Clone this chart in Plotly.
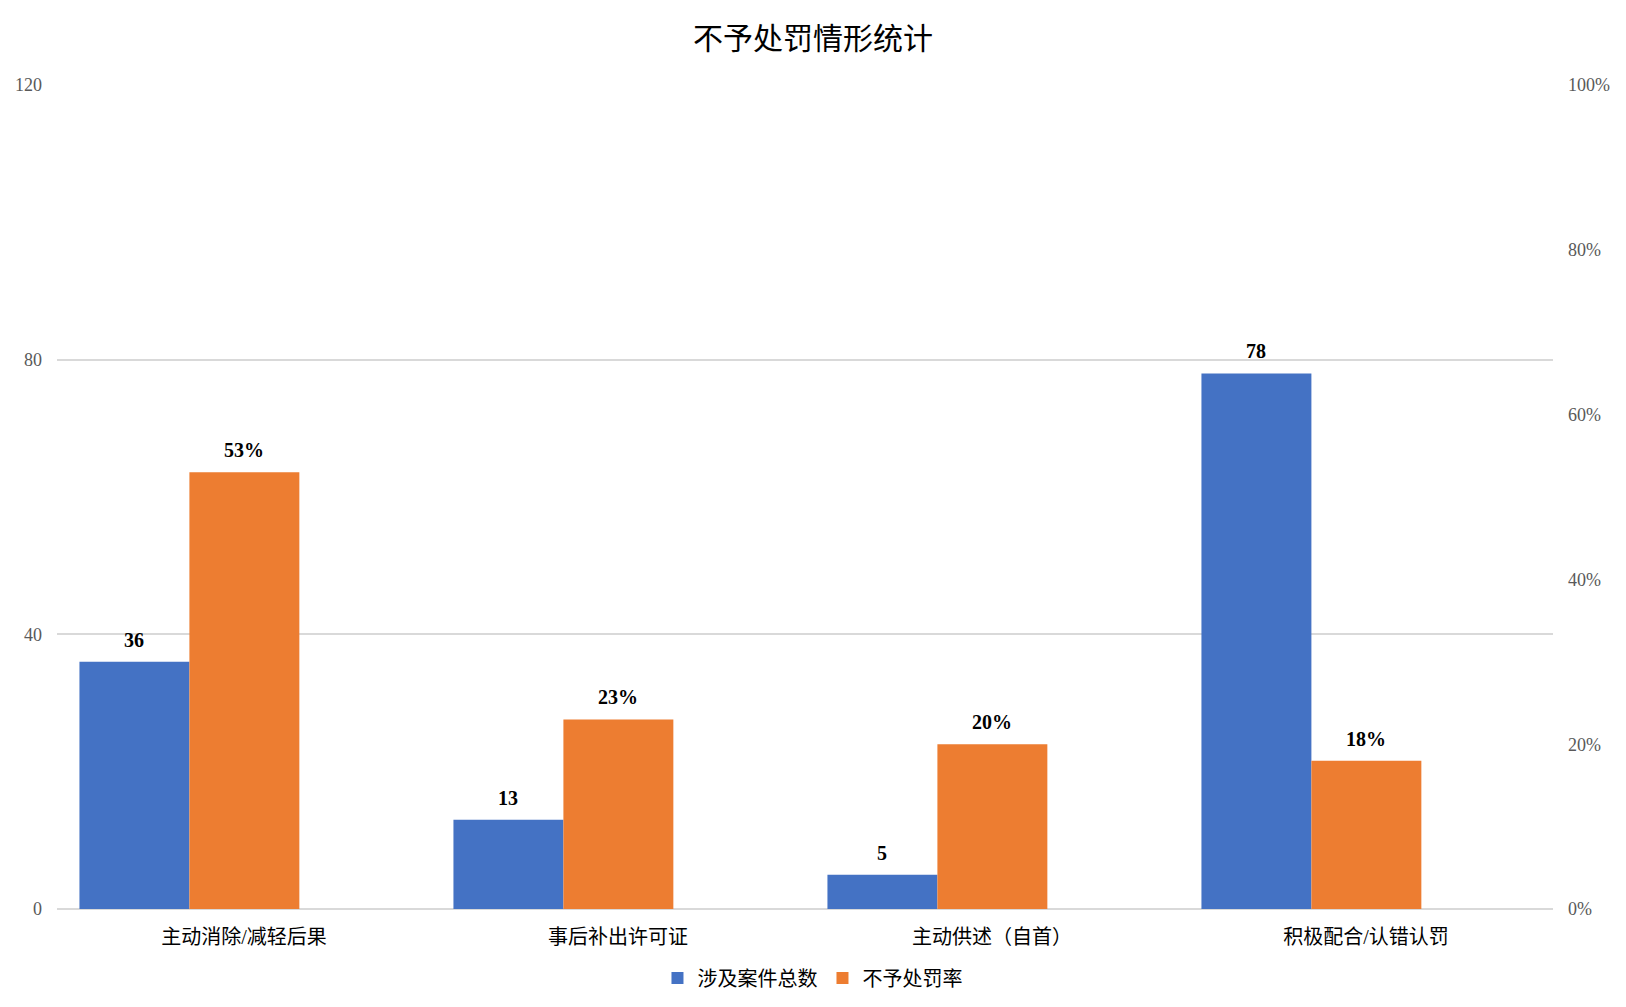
import plotly.graph_objects as go

categories = ["主动消除/减轻后果", "事后补出许可证", "主动供述（自首）", "积极配合/认错认罚"]
case_counts = [36, 13, 5, 78]
no_penalty_rate = [0.53, 0.23, 0.20, 0.18]

FONT = "Liberation Serif, Times New Roman, Noto Sans CJK SC, serif"
BAR_W = 0.294
OFF_BLUE = -0.44

W, H = 1610, 991
L, T, PW, PH = 49, 77, 1496, 824
GROUP_PX = PW / len(categories)

fig = go.Figure()
fig.add_trace(go.Bar(
    x=categories, y=case_counts, name="涉及案件总数",
    marker=dict(color="#4472C4", line=dict(width=0)),
    width=BAR_W, offset=OFF_BLUE, yaxis="y",
))
fig.add_trace(go.Bar(
    x=categories, y=no_penalty_rate, name="不予处罚率",
    marker=dict(color="#ED7D31", line=dict(width=0)),
    width=BAR_W, offset=OFF_BLUE + BAR_W, yaxis="y2",
))

label_font = dict(family=FONT, size=20, color="#000000")
for cat, v in zip(categories, case_counts):
    fig.add_annotation(x=cat, y=v, xref="x", yref="y", text=f"<b>{v}</b>",
                       showarrow=False, yanchor="middle", yshift=22,
                       xshift=(OFF_BLUE + BAR_W / 2) * GROUP_PX, font=label_font)
for cat, v in zip(categories, no_penalty_rate):
    fig.add_annotation(x=cat, y=v, xref="x", yref="y2", text=f"<b>{v:.0%}</b>",
                       showarrow=False, yanchor="middle", yshift=22,
                       xshift=(OFF_BLUE + 1.5 * BAR_W) * GROUP_PX, font=label_font)

fig.update_layout(
    width=W, height=H,
    paper_bgcolor="white", plot_bgcolor="white",
    margin=dict(l=L, r=W - L - PW, t=T, b=H - T - PH, autoexpand=False),
    font=dict(family=FONT, color="#000000"),
    title=dict(text="不予处罚情形统计", x=0.5, xanchor="center", y=1 - 30 / H, yanchor="middle",
               font=dict(family=FONT, size=30, color="#000000")),
    barmode="overlay",
    showlegend=True,
    legend=dict(orientation="h", x=0.505, xanchor="center", yref="container",
                y=1 - 970 / H, yanchor="middle",
                font=dict(family=FONT, size=20, color="#000000"),
                itemwidth=30, traceorder="normal"),
    xaxis=dict(type="category", showgrid=False, showline=False, ticks="", automargin=False,
               tickfont=dict(family=FONT, size=20, color="#000000"), ticklabelstandoff=14),
    yaxis=dict(range=[0, 120], dtick=40, showgrid=True, gridcolor="#D9D9D9", gridwidth=1.5,
               zeroline=True, zerolinecolor="#D9D9D9", zerolinewidth=1.5, showline=False,
               automargin=False,
               tickfont=dict(family=FONT, size=18, color="#595959"), ticklabelstandoff=14),
    yaxis2=dict(range=[0, 1], dtick=0.2, tickformat=".0%", overlaying="y", side="right",
                showgrid=False, zeroline=False, showline=False, automargin=False,
                tickfont=dict(family=FONT, size=18, color="#595959"), ticklabelstandoff=14),
)

fig.write_html("out.html")
